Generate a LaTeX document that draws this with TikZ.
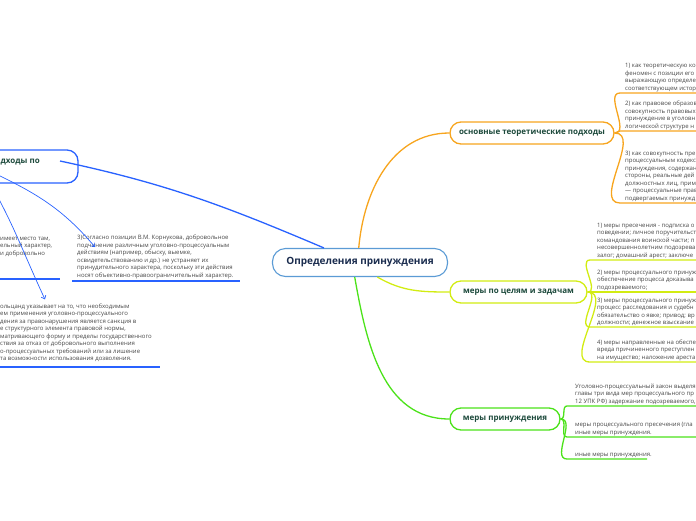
\documentclass[tikz,border=0pt]{standalone}
\usepackage{fontspec}
\setmainfont{Open Sans}
\usepackage{tikz}
\usetikzlibrary{arrows.meta}

\definecolor{rootblue}{HTML}{5B9BD5}
\definecolor{roottext}{HTML}{1B2D4F}
\definecolor{titlegreen}{HTML}{1D4A3C}
\definecolor{bodygray}{HTML}{474747}
\definecolor{branchblue}{HTML}{2962FF}
\definecolor{branchorange}{HTML}{F7A51E}
\definecolor{branchlime}{HTML}{D2EC12}
\definecolor{branchgreen}{HTML}{4CE21A}

\begin{document}
\begin{tikzpicture}[x=1pt, y=-1pt,
            rootnode/.style={draw=rootblue, line width=1.1pt, rounded corners=13pt, fill=white, minimum width=175pt, minimum height=28pt, font=\fontsize{10}{12}\selectfont\bfseries, text=roottext},
            branchnode/.style={rounded corners=11pt, fill=white, line width=1.3pt, minimum height=22pt, font=\fontsize{8}{10}\selectfont\bfseries, text=titlegreen},
            leaftext/.style={anchor=south west, align=left, inner sep=0pt, font=\fontsize{6}{7.5}\selectfont, text=bodygray},
            link/.style={line width=1.3pt},
            relation/.style={color=branchblue, line width=0.7pt, -{Straight Barb[length=3pt, width=5pt]}}
        ]
            \useasboundingbox (0,0) rectangle (696,520);
            \clip (0,0) rectangle (696,520);

            % central topic
            \node[rootnode] (root) at (360,262.5) {Определения принуждения};

            % main branches
            \node[branchnode, draw=branchorange, minimum width=164pt] (theory) at (532,133) {основные теоретические подходы};
            \node[branchnode, draw=branchlime, minimum width=137pt] (goals) at (518.5,292) {меры по целям и задачам};
            \node[branchnode, draw=branchgreen, minimum width=110pt] (measures) at (505,419) {меры принуждения};
            \node[branchnode, draw=branchblue, minimum width=196pt, minimum height=33pt] (approaches) at (-20,166.5) {};
            \node[branchnode, anchor=west, inner sep=0pt] (approacheslabel) at (0,162) {дходы по};
            \coordinate (approachesend) at (60,161);

            % links from the centre
            \draw[link, branchblue] (root.158) to[out=157, in=-12] (approachesend);
            \draw[link, branchorange] (root.95) to[out=85, in=180] (theory.west);
            \draw[link, branchlime] (root.-40) to[out=-30, in=180] (goals.west);
            \draw[link, branchgreen] (root.-110) to[out=-80, in=180] (measures.west);

            % theory items
            \coordinate (o1) at (620,93);
            \coordinate (o2) at (620,131);
            \coordinate (o3) at (620,203);
            \node[leaftext] (theoryone) at (625,92) {1) как теоретическую ко\\феномен с позиции его\\выражающую определе\\соответствующем истор};
            \node[leaftext] (theorytwo) at (625,130) {2) как правовое образов\\совокупность правовых\\принуждение в уголовн\\логической структуре н};
            \node[leaftext] (theorythree) at (625,202) {3) как совокупность пре\\процессуальным кодексо\\принуждения, содержан\\стороны, реальные дей\\должностных лиц, прим\\— процессуальные прав\\подвергаемых принужд};
            \foreach \u in {o1, o2, o3}{
                \draw[link, branchorange] (theory.east) to[out=0, in=180] (\u) -- ++(90,0);
            }

            % goal items
            \coordinate (l1) at (590,260);
            \coordinate (l2) at (590,292);
            \coordinate (l3) at (590,327);
            \coordinate (l4) at (590,362);
            \node[leaftext] (goalone) at (597,259) {1) меры пресечения - подписка о\\поведении; личное поручительст\\командования воинской части; п\\несовершеннолетним подозрева\\залог; домашний арест; заключе};
            \node[leaftext] (goaltwo) at (597,291) {2) меры процессуального принуж\\обеспечение процесса доказыва\\подозреваемого;};
            \node[leaftext] (goalthree) at (597,326) {3) меры процессуального принуж\\процесс расследования и судебн\\обязательство о явке; привод; вр\\должности; денежное взыскание};
            \node[leaftext] (goalfour) at (597,361) {4) меры направленные на обеспе\\вреда причиненного преступлен\\на имущество; наложение ареста};
            \foreach \u in {l1, l2, l3, l4}{
                \draw[link, branchlime] (goals.east) to[out=0, in=180] (\u) -- ++(110,0);
            }

            % measure items
            \coordinate (g1) at (567,406);
            \coordinate (g2) at (567,437);
            \coordinate (g3) at (567,459);
            \node[leaftext] (measureone) at (575,405) {Уголовно-процессуальный закон выделя\\главы три вида мер процессуального пр\\12 УПК РФ) задержание подозреваемого,};
            \node[leaftext] (measuretwo) at (575,436) {меры процессуального пресечения (гла\\иные меры принуждения.};
            \node[leaftext] (measurethree) at (575,458) {иные меры принуждения.};
            \draw[link, branchgreen] (measures.east) to[out=0, in=180] (g1) -- ++(130,0);
            \draw[link, branchgreen] (measures.east) to[out=0, in=180] (g2) -- ++(130,0);
            \draw[link, branchgreen] (measures.east) to[out=0, in=180] (g3) -- (647,459);

            % approach notes (left)
            \node[leaftext] (placenote) at (0,257) {имеет место там,\\ельный характер,\\и добровольно};
            \node[leaftext] (consentnote) at (77,279) {3)Согласно позиции В.М. Корнукова, добровольное\\подчинение различным уголовно-процессуальным\\действиям (например, обыску, выемке,\\освидетельствованию и др.) не устраняет их\\принудительного характера, поскольку эти действия\\носят объективно-правоограничительный характер.};
            \node[leaftext] (sanctionnote) at (0,362) {ольцанд указывает на то, что необходимым\\ем применения уголовно-процессуального\\дения за правонарушения является санкция в\\е структурного элемента правовой нормы,\\матривающего форму и пределы государственного\\ствия за отказ от добровольного выполнения\\о-процессуальных требований или за лишение\\та возможности использования дозволения.};
            \draw[link, branchblue] (-10,279) -- (60,279);
            \draw[link, branchblue] (72,281) -- (240,281);
            \draw[link, branchblue] (-10,367) -- (160,367);

            % relations
            \draw[relation] (approaches.center) to[out=-25, in=130] ([xshift=18pt, yshift=-12pt]consentnote.north west);
            \draw[relation] (approaches.center) to[out=-58, in=115] ([xshift=45pt, yshift=4pt]sanctionnote.north west);

        \end{tikzpicture}
\end{document}
